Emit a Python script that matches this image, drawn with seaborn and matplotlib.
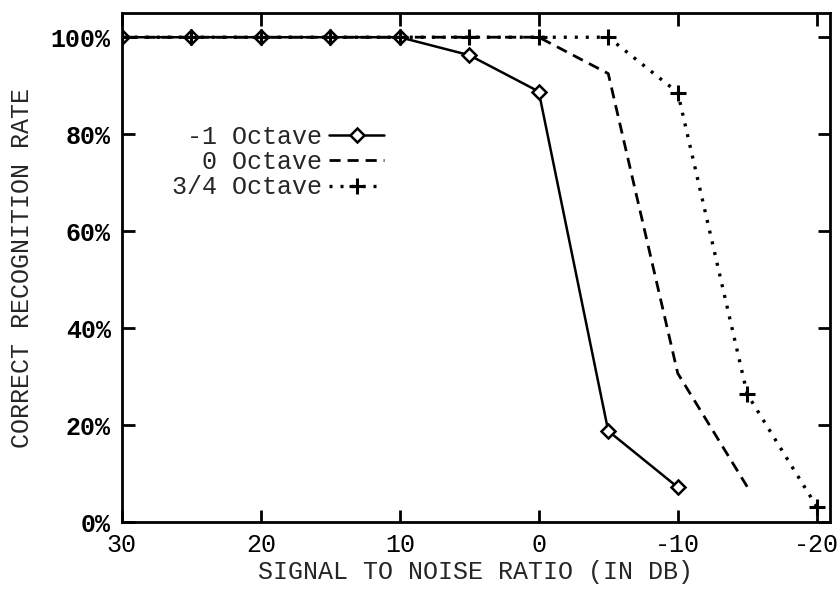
import matplotlib
matplotlib.use("Agg")
import matplotlib.pyplot as plt
import seaborn as sns

snr_m1 = [30, 25, 20, 15, 10, 5, 0, -5, -10]
rate_m1 = [100, 100, 100, 100, 100, 96.3, 88.8, 18.8, 7.2]

snr_0 = [30, 25, 20, 15, 10, 5, 0, -5, -10, -15]
rate_0 = [100, 100, 100, 100, 100, 100, 100, 92.5, 30.7, 7.3]

snr_34 = [30, 25, 20, 15, 10, 5, 0, -5, -10, -15, -20]
rate_34 = [100, 100, 100, 100, 100, 100, 100, 100, 88.6, 26.4, 3.2]

labels = ["-1 Octave", "0 Octave", "3/4 Octave"]
xticks = [30, 20, 10, 0, -10, -20]
yticks = [0, 20, 40, 60, 80, 100]
ytick_labels = ["0%", "20%", "40%", "60%", "80%", "100%"]

sns.set_style("white")
plt.rcParams["font.family"] = ["Liberation Mono", "DejaVu Sans Mono"]

fig = plt.figure(figsize=(8.4, 5.9), dpi=100)
ax = fig.add_axes([0.145, 0.115, 0.843, 0.863])

sns.lineplot(x=snr_m1, y=rate_m1, ax=ax, color="black", linewidth=1.8,
             linestyle="-", marker="D", markersize=7, markerfacecolor="white",
             markeredgecolor="black", markeredgewidth=1.8, label=labels[0])
sns.lineplot(x=snr_0, y=rate_0, ax=ax, color="black", linewidth=2.0,
             linestyle=(0, (4, 2.5)), label=labels[1])
sns.lineplot(x=snr_34, y=rate_34, ax=ax, color="black", linewidth=2.4,
             linestyle=(0, (0.9, 2.4)), marker="+", markersize=11,
             markeredgecolor="black", markeredgewidth=2.2, label=labels[2])

ax.set_xlim(30, -20.95)
ax.set_ylim(0, 105)
ax.set_xticks(xticks)
ax.set_xticklabels([str(t) for t in xticks])
ax.set_yticks(yticks)
ax.set_yticklabels(ytick_labels)

for lab in ax.get_xticklabels():
    lab.set_fontsize(18)
for lab in ax.get_yticklabels():
    lab.set_fontweight("bold")
    lab.set_fontsize(18)

ax.tick_params(direction="in", length=9, width=2, top=True, right=True,
               bottom=True, left=True, pad=8, colors="black")
for s in ax.spines.values():
    s.set_linewidth(2)
    s.set_color("black")
    s.set_visible(True)

ax.set_xlabel("SIGNAL TO NOISE RATIO (IN DB)", fontsize=18, labelpad=2)
ax.set_ylabel("CORRECT RECOGNITION RATE", fontsize=18, labelpad=12)

leg = ax.legend(loc="upper right", bbox_to_anchor=(0.385, 0.80), frameon=False,
                markerfirst=False, fontsize=18, handlelength=2.2,
                handletextpad=0.3, labelspacing=0.05, borderaxespad=0)

fig.savefig("out.png", dpi=100)
